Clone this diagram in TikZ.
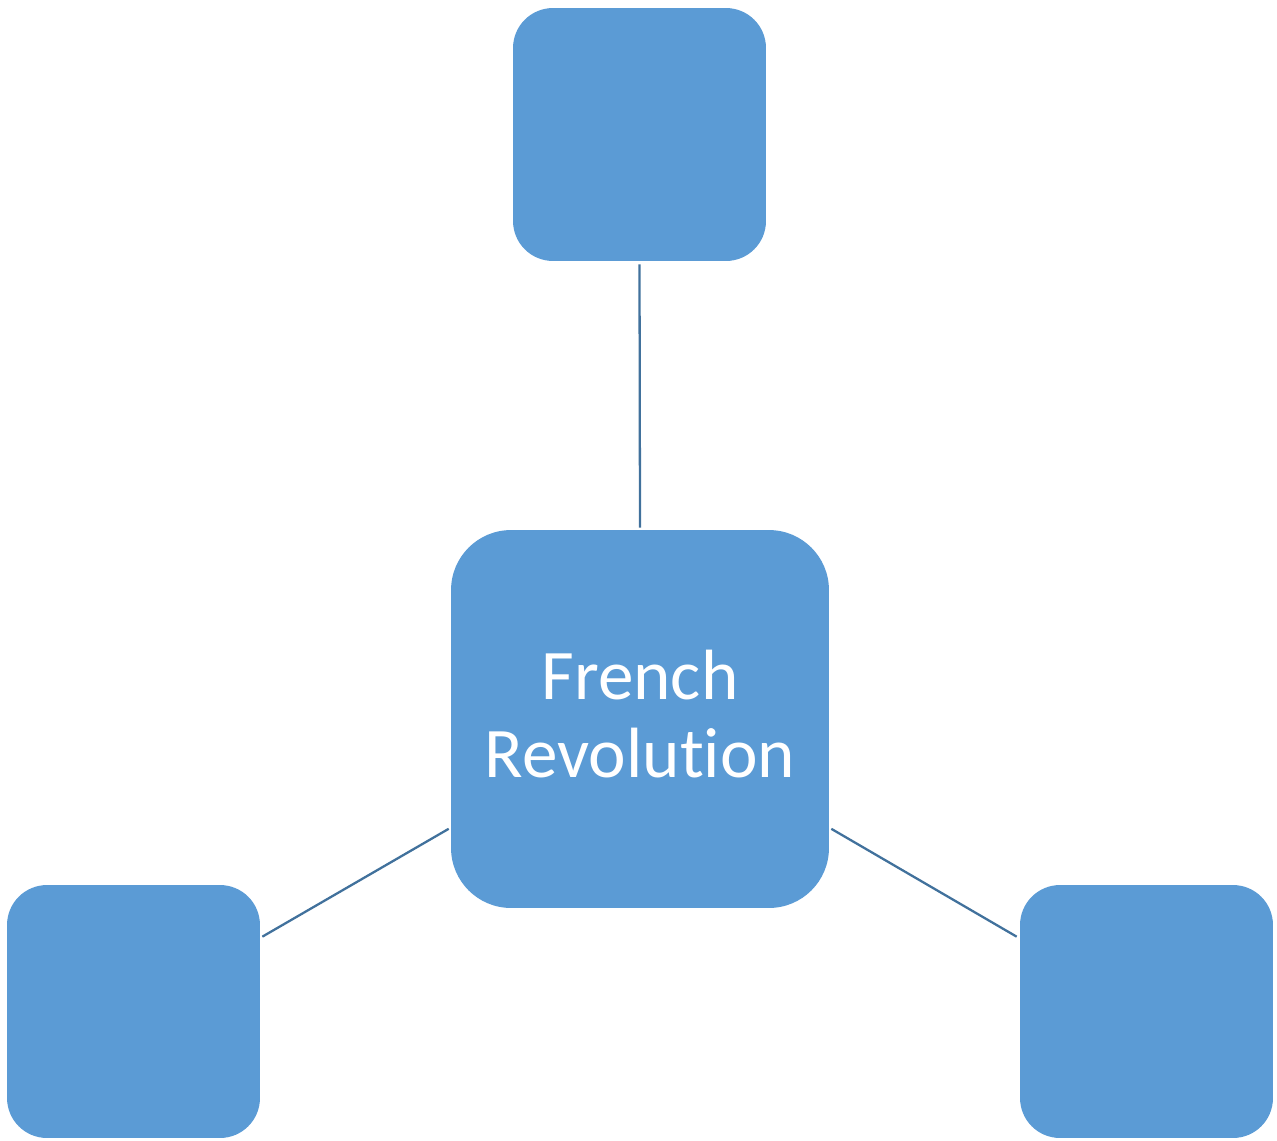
\documentclass[tikz,border=0pt]{standalone}
\usepackage{fontspec}
\setmainfont{Carlito}[Ligatures=NoCommon]
\usetikzlibrary{calc}
\definecolor{boxfill}{HTML}{5B9BD5}
\definecolor{linkcol}{HTML}{41719C}
\begin{document}
\begin{tikzpicture}[x=0.02cm,y=-0.02cm,
  smallbox/.style={fill=boxfill,draw=none,rounded corners=0.8cm,minimum width=5.06cm,minimum height=5.06cm,inner sep=0pt},
  bigbox/.style={fill=boxfill,draw=none,rounded corners=1.2cm,minimum width=7.56cm,minimum height=7.56cm,inner sep=0pt},
  label/.style={text=white,align=center,inner sep=0pt,font=\fontsize{40.5pt}{44.2pt}\selectfont},
  link/.style={draw=linkcol,line width=1.3pt}]
\useasboundingbox (0,0) rectangle (1277,1140);
\node[smallbox] (top) at (639.5,134.5) {};
\node[bigbox] (ctr) at (640,719) {};
\node[label] (ctrtext) at (640,714) {French\\Revolution};
\node[smallbox] (bl) at (133.5,1011.5) {};
\node[smallbox] (br) at (1146.5,1011.5) {};
\draw[link] ($(top.south)+(0,3)$) -- ($(ctr.north)+(0,-2)$);
\draw[link] ($(bl.north east)!0.205!(bl.south east)+(2,0)$) -- ($(ctr.north west)!0.79!(ctr.south west)+(-2,0)$);
\draw[link] ($(br.north west)!0.205!(br.south west)+(-3,0)$) -- ($(ctr.north east)!0.79!(ctr.south east)+(2,0)$);
\end{tikzpicture}
\end{document}
